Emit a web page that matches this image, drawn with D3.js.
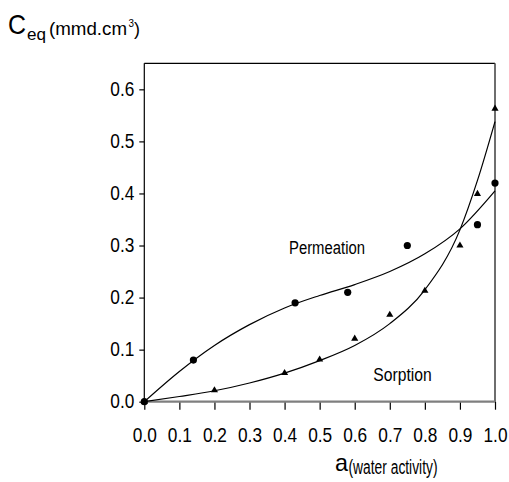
<!DOCTYPE html>
<html>
<head>
<meta charset="utf-8">
<script src="https://cdn.jsdelivr.net/npm/d3@7"></script>
<style>
  body { margin: 0; background: #fff; }
  svg { display: block; }
  text { font-family: "Liberation Sans", Arial, Helvetica, sans-serif; fill: #000; }
</style>
</head>
<body>
<svg id="chart" width="509" height="482"></svg>
<script>
// Measured points: permeation (circles) and sorption (triangles)
const permActivity = [0, 0.14, 0.43, 0.58, 0.75, 0.95, 1.0];
const permConc     = [0, 0.080, 0.190, 0.210, 0.300, 0.340, 0.420];
const sorpActivity = [0, 0.2, 0.4, 0.5, 0.6, 0.7, 0.8, 0.9, 0.95, 1.0];
const sorpConc     = [0, 0.022, 0.055, 0.081, 0.121, 0.167, 0.213, 0.300, 0.399, 0.563];

// Fitted curves
const permFitActivity = [0, 0.1, 0.2, 0.3, 0.4, 0.5, 0.6, 0.7, 0.8, 0.9, 1.0];
const permFitConc     = [0, 0.058, 0.108, 0.148, 0.180, 0.204, 0.225, 0.250, 0.284, 0.332, 0.405];
const sorpFitActivity = [0, 0.1, 0.2, 0.3, 0.4, 0.5, 0.6, 0.7, 0.8, 0.9, 0.95, 1.0];
const sorpFitConc     = [0, 0.010, 0.021, 0.036, 0.055, 0.079, 0.108, 0.150, 0.215, 0.330, 0.425, 0.538];

// Axis ticks
const xTicks = [0, 0.1, 0.2, 0.3, 0.4, 0.5, 0.6, 0.7, 0.8, 0.9, 1.0];
const yTicks = [0, 0.1, 0.2, 0.3, 0.4, 0.5, 0.6];

const svg = d3.select("#chart");
const plot = { left: 144.3, right: 495, top: 63.3, bottom: 401.7 };

const x = d3.scaleLinear().domain([0, 1]).range([plot.left, plot.right]);
const y = d3.scaleLinear().domain([0, 0.65]).range([plot.bottom, plot.top]);

const zip = (xs, ys) => xs.map((v, i) => [v, ys[i]]);

// Frame: top (black) and right (dark grey)
svg.append("line").attr("x1", plot.left).attr("x2", plot.right)
  .attr("y1", plot.top).attr("y2", plot.top)
  .attr("stroke", "#000").attr("stroke-width", 1.2);
svg.append("line").attr("x1", plot.right).attr("x2", plot.right)
  .attr("y1", plot.top).attr("y2", plot.bottom)
  .attr("stroke", "#4a4a4a").attr("stroke-width", 1.6);

// Bottom axis
const gx = svg.append("g").attr("transform", `translate(0,${plot.bottom})`)
  .call(d3.axisBottom(x).tickValues(xTicks).tickSize(8).tickPadding(18)
    .tickFormat(d3.format(".1f")));
gx.select(".domain").remove();
gx.selectAll(".tick line").attr("stroke", "#000").attr("stroke-width", 1.2);
gx.selectAll("text").attr("font-size", 19.5).attr("font-family", null)
  .attr("textLength", 24).attr("lengthAdjust", "spacingAndGlyphs");
svg.append("line").attr("x1", plot.left).attr("x2", plot.right)
  .attr("y1", plot.bottom).attr("y2", plot.bottom)
  .attr("stroke", "#7f7f7f").attr("stroke-width", 2.2);

// Left axis
const gy = svg.append("g").attr("transform", `translate(${plot.left},0)`)
  .call(d3.axisLeft(y).tickValues(yTicks).tickSize(5).tickPadding(5)
    .tickFormat(d3.format(".1f")));
gy.select(".domain").remove();
gy.selectAll(".tick line").attr("stroke", "#000").attr("stroke-width", 1.2);
gy.selectAll("text").attr("font-size", 19.5).attr("font-family", null)
  .attr("textLength", 24).attr("lengthAdjust", "spacingAndGlyphs");
svg.append("line").attr("x1", plot.left).attr("x2", plot.left)
  .attr("y1", plot.top).attr("y2", plot.bottom)
  .attr("stroke", "#000").attr("stroke-width", 1.2);

// Fitted curves
const line = d3.line().x(d => x(d[0])).y(d => y(d[1])).curve(d3.curveMonotoneX);
svg.append("path").datum(zip(permFitActivity, permFitConc))
  .attr("d", line).attr("fill", "none").attr("stroke", "#000").attr("stroke-width", 1.2);
svg.append("path").datum(zip(sorpFitActivity, sorpFitConc))
  .attr("d", line).attr("fill", "none").attr("stroke", "#000").attr("stroke-width", 1.2);

// Markers
svg.append("g").selectAll("circle").data(zip(permActivity, permConc)).join("circle")
  .attr("cx", d => x(d[0])).attr("cy", d => y(d[1])).attr("r", 3.6).attr("fill", "#000");
svg.append("g").selectAll("path").data(zip(sorpActivity, sorpConc)).join("path")
  .attr("transform", d => `translate(${x(d[0])},${y(d[1])})`)
  .attr("d", d3.symbol(d3.symbolTriangle, 22)).attr("fill", "#000");

// Curve labels
const label = (txt, px, py, size, len) =>
  svg.append("text").attr("x", px).attr("y", py).attr("font-size", size)
    .attr("textLength", len).attr("lengthAdjust", "spacingAndGlyphs").text(txt);

label("Permeation", 289, 254, 18, 76);
label("Sorption", 373.3, 381, 18.6, 58.4);

// Y axis title: C_eq (mmd.cm^3)
label("C", 8, 33.5, 28, 18);
label("eq", 27, 40, 17, 19);
label("(mmd.cm", 49, 34.5, 18, 78);
label("3", 128.5, 27, 10.5, 5.5);
label(")", 134, 34.5, 18, 6);

// X axis title: a (water activity)
label("a", 335, 471, 24, 13);
label("(water activity)", 348.5, 473.5, 20, 89);
</script>
</body>
</html>
